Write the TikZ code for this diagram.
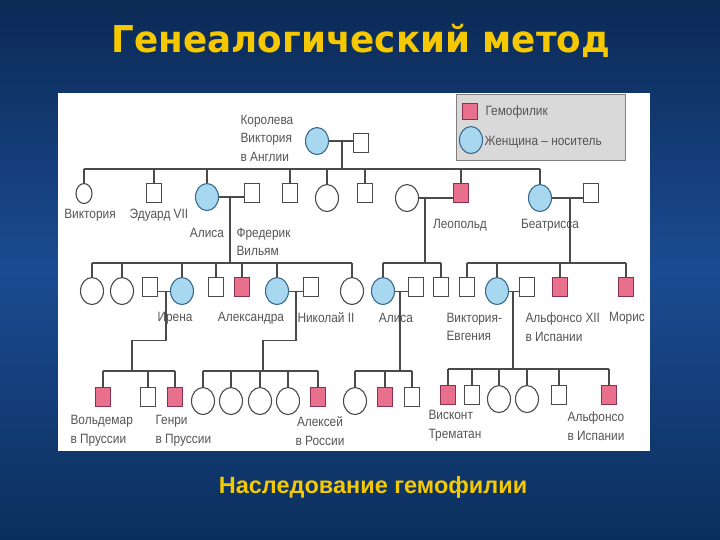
\documentclass[tikz,border=0pt]{standalone}
\usepackage{fontspec}
\setmainfont{Liberation Sans}
\newfontfamily\headfont{DejaVu Sans}[FakeStretch=0.965]
\newfontfamily\narrowfont{Liberation Sans}[FakeStretch=0.88]
\usetikzlibrary{shapes.geometric}

\definecolor{bgtop}{HTML}{0B2A55}
\definecolor{bgmid}{HTML}{1B4B92}
\definecolor{bgbot}{HTML}{0B2F5C}
\definecolor{headyel}{HTML}{F5C800}
\definecolor{lineg}{HTML}{4A4A4A}
\definecolor{txtg}{HTML}{555555}
\definecolor{hemo}{HTML}{E8708C}
\definecolor{hemoline}{HTML}{8A3050}
\definecolor{carr}{HTML}{A8D8F0}
\definecolor{carrline}{HTML}{3A6A90}
\definecolor{legbg}{HTML}{D9D9D9}

\tikzset{
  male/.style={draw=lineg, rectangle, minimum width=15pt, minimum height=19pt, inner sep=0pt, anchor=north, fill=white},
  female/.style={draw=lineg, ellipse, minimum width=23pt, minimum height=27pt, inner sep=0pt, anchor=north, fill=white},
  sick/.style={fill=hemo, draw=hemoline},
  carrier/.style={fill=carr, draw=carrline},
  lab/.style={font=\narrowfont\fontsize{13.5}{18.5}\selectfont, text=txtg, inner sep=0pt},
  labl/.style={lab, align=left, anchor=west},
  labc/.style={lab, align=center}
}

\begin{document}
\begin{tikzpicture}[x=1pt,y=-1pt,line width=1.1pt,color=lineg]
\useasboundingbox (0,0) rectangle (720,540);
%BACKGROUND
\fill[top color=bgtop, bottom color=bgbot, middle color=bgmid] (0,0) rectangle (720,540);
\fill[white] (58,93) rectangle (650,451);
\node[font=\headfont\bfseries\fontsize{37}{40}\selectfont, text=headyel, anchor=base] (title) at (361,53) {Генеалогический метод};
\node[font=\bfseries\fontsize{23.5}{26}\selectfont, text=headyel] (subtitle) at (373,487) {Наследование гемофилии};

%LEGEND
\draw[fill=legbg, line width=0.8pt, draw=gray] (456,94) rectangle (625,160);
\node[male, sick, minimum height=16pt] (lg1) at (470,103) {};
\node[labl] at (485,112) {Гемофилик};
\node[female, carrier] (lg2) at (471,126) {};
\node[labl] at (484,142) {Женщина – носитель};

%GENERATION I
\node[female, carrier] (qv) at (317,127) {};
\node[male] (qa) at (361,133) {};
\node[labl] at (240,138) {Королева\\Виктория\\в Англии};
\coordinate (m0) at (342,140.5);
\coordinate (b0) at (342,169);
\draw (qv.east) -- (qa.west |- qv.east);
\draw (m0) -- (b0);

%GENERATION II
\node[female, minimum width=16pt, minimum height=20pt] (vi) at (84,183) {};
\node[male] (ed) at (154,183) {};
\node[female, carrier] (al) at (207,183) {};
\node[male] (fw) at (252,183) {};
\node[male] (s1) at (290,183) {};
\node[female] (d1) at (327,184) {};
\node[male] (s2) at (365,183) {};
\node[female] (lw) at (407,184) {};
\node[male, sick] (le) at (461,183) {};
\node[female, carrier] (be) at (540,184) {};
\node[male] (bh) at (591,183) {};
\draw (vi.north |- b0) -- (be.north |- b0);
\foreach \k in {vi,ed,al,s1,d1,s2,le,be}
  \draw (\k.north) -- (\k.north |- b0);
\node[labc] at (90,215) {Виктория};
\node[labc] at (159,215) {Эдуард VII};
\node[labc] at (207,233) {Алиса};
\node[labl] at (236,242) {Фредерик\\Вильям};
\node[labc] at (460,225) {Леопольд};
\node[labc] at (550,225) {Беатрисса};
%marriages
\coordinate (m1) at (230,197.5);
\coordinate (b1) at (230,263);
\coordinate (m2) at (425,197.5);
\coordinate (b2) at (425,263);
\coordinate (m3) at (570,197.5);
\coordinate (b3) at (570,263);
\draw (al.east) -- (fw.west |- al.east);
\draw (lw.east) -- (le.west |- lw.east);
\draw (be.east) -- (bh.west |- be.east);
\draw (m1) -- (b1);
\draw (m2) -- (b2);
\draw (m3) -- (b3);

%GENERATION III
\node[female] (c21) at (92,277) {};
\node[female] (c22) at (122,277) {};
\node[male] (ih) at (150,277) {};
\node[female, carrier] (ir) at (182,277) {};
\node[male] (c23) at (216,277) {};
\node[male, sick] (c24) at (242,277) {};
\node[female, carrier] (ax) at (277,277) {};
\node[male] (ni) at (311,277) {};
\node[female] (c25) at (352,277) {};
\node[female, carrier] (a2) at (383,277) {};
\node[male] (a2h) at (416,277) {};
\node[male] (c26) at (441,277) {};
\node[male] (c27) at (467,277) {};
\node[female, carrier] (ve) at (497,277) {};
\node[male] (veh) at (527,277) {};
\node[male, sick] (af) at (560,277) {};
\node[male, sick] (mo) at (626,277) {};
\draw (c21.north |- b1) -- (c25.north |- b1);
\foreach \k in {c21,c22,ir,c23,c24,ax,c25}
  \draw (\k.north) -- (\k.north |- b1);
\draw (a2.north |- b2) -- (c26.north |- b2);
\foreach \k in {a2,c26}
  \draw (\k.north) -- (\k.north |- b2);
\draw (c27.north |- b3) -- (mo.north |- b3);
\foreach \k in {c27,ve,af,mo}
  \draw (\k.north) -- (\k.north |- b3);
\node[labc] at (175,318) {Ирена};
\node[labc] at (251,318) {Александра};
\node[labc] at (326,318) {Николай II};
\node[labc] at (396,318) {Алиса};
\node[labl] at (446,327) {Виктория-\\Евгения};
\node[labl] at (525,327) {Альфонсо XII\\в Испании};
\node[labc] at (627,318) {Морис};
%marriages
\coordinate (m4) at (166,290.5);
\coordinate (b4) at (132,371);
\coordinate (m5) at (296,290.5);
\coordinate (b5) at (263,371);
\coordinate (m6) at (400,290.5);
\coordinate (b6) at (400,371);
\coordinate (m7) at (513,290.5);
\coordinate (b7) at (513,369);
\draw (ih.east |- ir.east) -- (ir.west);
\draw (ax.east) -- (ni.west |- ax.east);
\draw (a2.east) -- (a2h.west |- a2.east);
\draw (ve.east) -- (veh.west |- ve.east);
\draw (m4) -- ++(0,50) -| (b4);
\draw (m5) -- ++(0,50) -| (b5);
\draw (m6) -- (b6);
\draw (m7) -- (b7);

%GENERATION IV
\node[male, sick] (wo) at (103,387) {};
\node[male] (g1) at (148,387) {};
\node[male, sick] (he) at (175,387) {};
\node[female] (r1) at (203,387) {};
\node[female] (r2) at (231,387) {};
\node[female] (r3) at (260,387) {};
\node[female] (r4) at (288,387) {};
\node[male, sick] (ak) at (318,387) {};
\node[female] (p1) at (355,387) {};
\node[male, sick] (p2) at (385,387) {};
\node[male] (p3) at (412,387) {};
\node[male, sick] (vt) at (448,385) {};
\node[male] (g2) at (472,385) {};
\node[female] (r5) at (499,385) {};
\node[female] (r6) at (527,385) {};
\node[male] (g3) at (559,385) {};
\node[male, sick] (as) at (609,385) {};
\draw (wo.north |- b4) -- (he.north |- b4);
\foreach \k in {wo,g1,he}
  \draw (\k.north) -- (\k.north |- b4);
\draw (r1.north |- b5) -- (ak.north |- b5);
\foreach \k in {r1,r2,r3,r4,ak}
  \draw (\k.north) -- (\k.north |- b5);
\draw (p1.north |- b6) -- (p3.north |- b6);
\foreach \k in {p1,p2,p3}
  \draw (\k.north) -- (\k.north |- b6);
\draw (vt.north |- b7) -- (as.north |- b7);
\foreach \k in {vt,g2,r5,r6,g3,as}
  \draw (\k.north) -- (\k.north |- b7);
\node[labl] at (70,431) {Вольдемар\\в Пруссии};
\node[labl] at (155,431) {Генри\\в Пруссии};
\node[labc] at (320,431) {Алексей\\в России};
\node[labl] at (428,426) {Висконт\\Трематан};
\node[labc] at (596,426) {Альфонсо\\в Испании};
\end{tikzpicture}
\end{document}
